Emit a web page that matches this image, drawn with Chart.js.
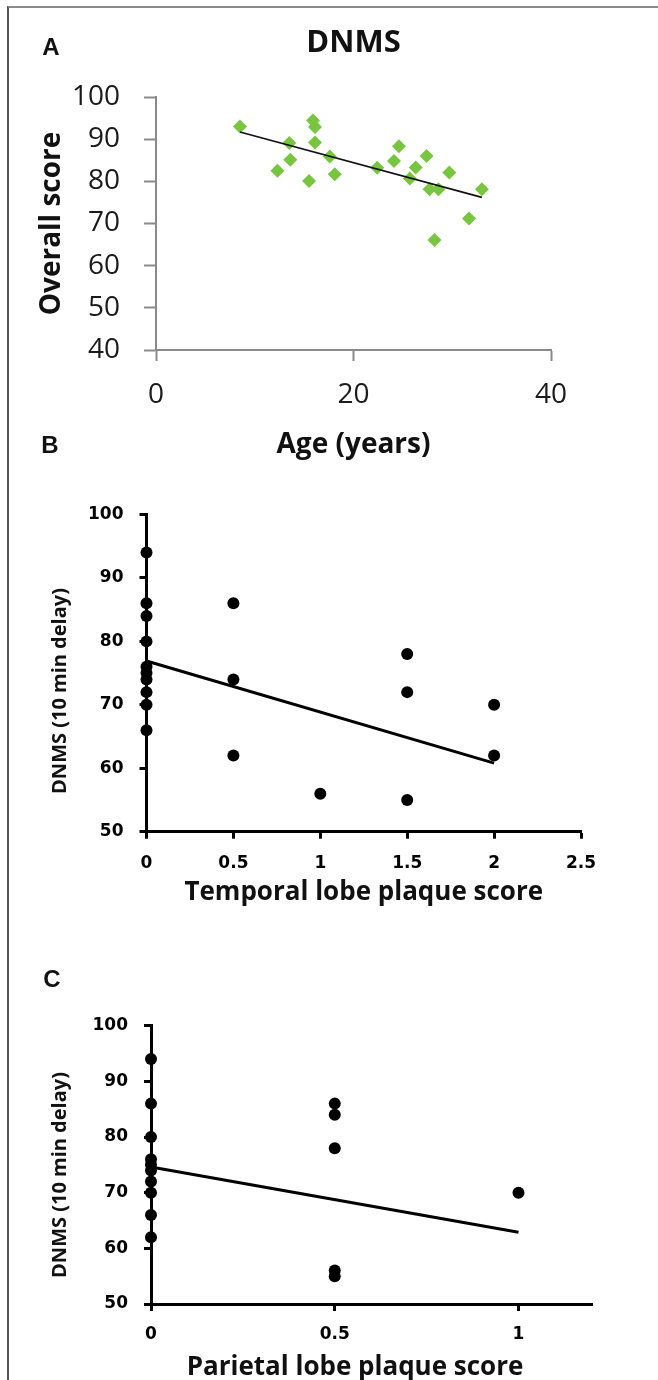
<!DOCTYPE html>
<html>
<head>
<meta charset="utf-8">
<title>DNMS</title>
<script src="https://cdn.jsdelivr.net/npm/chart.js@4.4.1/dist/chart.umd.min.js"></script>
<style>
  html, body { margin: 0; padding: 0; background: #fff; }
  #page { position: relative; width: 658px; height: 1380px; overflow: hidden; background: #fff; }
  #frame { position: absolute; left: 7px; top: 6px; width: 660px; height: 1400px; border-left: 2px solid #555; border-top: 2px solid #8a8a8a; }
  canvas { position: absolute; left: 0; }
  .letter { position: absolute; transform: translate(-50%, -50%); font-family: "Liberation Sans", Arial, sans-serif; font-weight: bold; font-size: 24px; line-height: 1; color: #111; }
  .ytitle { position: absolute; transform: translate(-50%, -50%) rotate(-90deg); white-space: nowrap; font-family: "Open Sans", sans-serif; font-weight: bold; font-size: 20px; line-height: 1; color: #111; }
  .xtitle { position: absolute; transform: translate(-50%, -50%); white-space: nowrap; font-family: "Open Sans", sans-serif; font-weight: bold; font-size: 26px; line-height: 1; color: #111; }
</style>
</head>
<body>
<div id="page">
  <div id="frame"></div>
  <canvas id="chartA" width="658" height="470" style="top:0px"></canvas>
  <canvas id="chartB" width="658" height="460" style="top:460px"></canvas>
  <canvas id="chartC" width="658" height="440" style="top:940px"></canvas>
  <div class="letter" style="left:51px; top:47px">A</div>
  <div class="letter" style="left:50px; top:445px">B</div>
  <div class="letter" style="left:52px; top:979px">C</div>
  <div class="ytitle" style="left:59px; top:691px">DNMS (10 min delay)</div>
  <div class="ytitle" style="left:59px; top:1175px">DNMS (10 min delay)</div>
  <div class="xtitle" style="left:355px; top:1365px">Parietal lobe plaque score</div>
</div>
<script>
// A: overall DNMS score against age
const ageA = [8.5, 15.9, 16.1, 13.5, 16.1, 13.6, 12.3, 15.5, 17.6, 18.1, 22.4, 24.1, 24.6, 26.3, 25.7, 27.4, 27.7, 28.6, 29.7, 33.0, 31.7, 28.2];
const scoreA = [93.0, 94.4, 92.9, 89.1, 89.2, 85.1, 82.5, 80.1, 85.9, 81.7, 83.2, 84.8, 88.3, 83.3, 80.7, 86.0, 78.1, 78.1, 82.1, 78.1, 71.2, 66.1];
const fitAgeA = [8.5, 33.0];
const fitScoreA = [91.7, 76.2];
const ageTicks = [0, 20, 40];
const scoreTicks = [40, 50, 60, 70, 80, 90, 100];

// B: 10 min delay against temporal lobe plaque score
const temporalB = [0, 0, 0, 0, 0, 0, 0, 0, 0, 0, 0.5, 0.5, 0.5, 1, 1.5, 1.5, 1.5, 2, 2];
const delayB = [94, 86, 84, 80, 76, 75, 74, 72, 70, 66, 86, 74, 62, 56, 78, 72, 55, 70, 62];
const fitTemporalB = [0, 2];
const fitDelayB = [76.9, 60.8];
const temporalTicks = [0, 0.5, 1, 1.5, 2, 2.5];

// C: 10 min delay against parietal lobe plaque score
const parietalC = [0, 0, 0, 0, 0, 0, 0, 0, 0, 0, 0.5, 0.5, 0.5, 0.5, 0.5, 1];
const delayC = [94, 86, 80, 76, 75, 74, 72, 70, 66, 62, 86, 84, 78, 56, 55, 70];
const fitParietalC = [0, 1];
const fitDelayC = [74.6, 62.9];
const parietalTicks = [0, 0.5, 1];
const delayTicks = [50, 60, 70, 80, 90, 100];

const pts = (xs, ys) => xs.map((x, i) => ({ x: x, y: ys[i] }));
const useTicks = vals => axis => { axis.ticks = vals.map(v => ({ value: v })); };
const plain = v => String(v);

const quiet = { legend: { display: false }, tooltip: { enabled: false } };

// panel A
new Chart(document.getElementById('chartA'), {
  type: 'scatter',
  data: {
    datasets: [
      { data: pts(fitAgeA, fitScoreA), showLine: true, borderColor: '#111', borderWidth: 1.6, pointRadius: 0, clip: false },
      { data: pts(ageA, scoreA), pointStyle: 'rectRot', pointRadius: 7, backgroundColor: '#78c63f', borderColor: '#78c63f', borderWidth: 0, clip: false }
    ]
  },
  options: {
    responsive: false, animation: false, devicePixelRatio: 1,
    layout: { padding: { left: 10, right: 107, top: 0, bottom: 8 } },
    plugins: Object.assign({}, quiet, {
      title: {
        display: true, text: 'DNMS', fullSize: false, color: '#111',
        font: { family: 'Open Sans', size: 31, weight: 'bold', lineHeight: 1.2 },
        padding: { top: 24.5, bottom: 35.3 }
      }
    }),
    scales: {
      x: {
        type: 'linear', min: 0, max: 40,
        afterBuildTicks: useTicks(ageTicks),
        afterFit: s => { s.height = 112; },
        border: { color: '#8a8a8a', width: 2 },
        grid: { drawOnChartArea: false, tickLength: 11, tickColor: '#8a8a8a', tickWidth: 2 },
        ticks: { autoSkip: false, padding: 17, color: '#1a1a1a', callback: plain, font: { family: 'Open Sans', size: 28 } },
        title: { display: true, text: 'Age (years)', color: '#111', font: { family: 'Open Sans', size: 28, weight: 'bold', lineHeight: 1.2 }, padding: { top: 0, bottom: 0 } }
      },
      y: {
        type: 'linear', min: 40, max: 100,
        afterBuildTicks: useTicks(scoreTicks),
        afterFit: s => { s.width = 146; },
        border: { color: '#8a8a8a', width: 2 },
        grid: { drawOnChartArea: false, tickLength: 12, tickColor: '#8a8a8a', tickWidth: 2 },
        ticks: { autoSkip: false, padding: 24, color: '#1a1a1a', callback: plain, font: { family: 'Open Sans', size: 28 } },
        title: { display: true, text: 'Overall score', color: '#111', font: { family: 'Open Sans', size: 28, weight: 'bold', lineHeight: 1.2 }, padding: { top: 25, bottom: 0 } }
      }
    }
  }
});

function plaqueChart(id, xs, ys, fitX, fitY, xTicks, xMax, pad, yWidth, xHeight, xTitle, xLabelPad) {
  return new Chart(document.getElementById(id), {
    type: 'scatter',
    data: {
      datasets: [
        { data: pts(fitX, fitY), showLine: true, borderColor: '#000', borderWidth: 3, pointRadius: 0, clip: false },
        { data: pts(xs, ys), pointStyle: 'circle', pointRadius: 6, backgroundColor: '#000', borderColor: '#000', borderWidth: 0, clip: false }
      ]
    },
    options: {
      responsive: false, animation: false, devicePixelRatio: 1,
      layout: { padding: pad },
      plugins: quiet,
      scales: {
        x: {
          type: 'linear', min: 0, max: xMax,
          afterBuildTicks: useTicks(xTicks),
          afterFit: s => { s.height = xHeight; },
          border: { color: '#000', width: 3 },
          grid: { drawOnChartArea: false, tickLength: 7, tickColor: '#000', tickWidth: 3 },
          ticks: { autoSkip: false, padding: xLabelPad, color: '#000', callback: plain, font: { family: 'DejaVu Sans', size: 17, weight: 'bold' } },
          title: { display: !!xTitle, text: xTitle, color: '#111', font: { family: 'Open Sans', size: 26, weight: 'bold', lineHeight: 1.2 }, padding: { top: 0, bottom: 0 } }
        },
        y: {
          type: 'linear', min: 50, max: 100,
          afterBuildTicks: useTicks(delayTicks),
          afterFit: s => { s.width = yWidth; },
          border: { color: '#000', width: 3 },
          grid: { drawOnChartArea: false, tickLength: 7, tickColor: '#000', tickWidth: 3 },
          ticks: { autoSkip: false, padding: 16, color: '#000', callback: plain, font: { family: 'DejaVu Sans', size: 17, weight: 'bold' } },
          title: { display: false }
        }
      }
    }
  });
}

plaqueChart('chartB', temporalB, delayB, fitTemporalB, fitDelayB, temporalTicks, 2.5,
  { left: 10, right: 77, top: 54.5, bottom: 11.4 }, 136.5, 76.9, 'Temporal lobe plaque score', 14.4);

plaqueChart('chartC', parietalC, delayC, fitParietalC, fitDelayC, parietalTicks, 1.2,
  { left: 10, right: 66, top: 85.7, bottom: 0 }, 141, 76, '', 13.8);
</script>
</body>
</html>
